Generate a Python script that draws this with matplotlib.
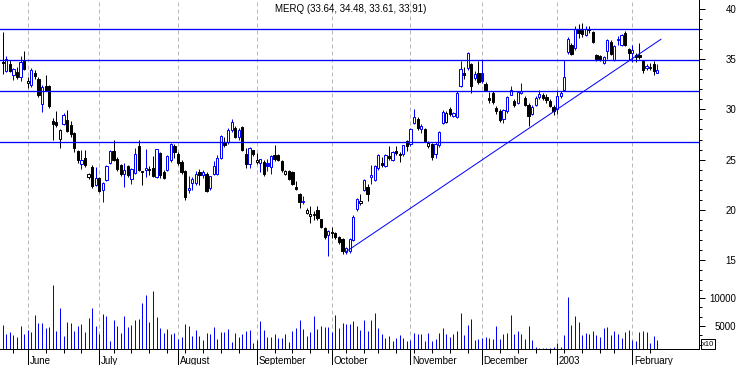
import numpy as np
import pandas as pd
import matplotlib
matplotlib.use('Agg')
import matplotlib.pyplot as plt
from matplotlib.patches import Rectangle
from matplotlib.ticker import FixedLocator
import matplotlib.transforms as mtransforms

# ---------------- data ----------------
opens = [34.7, 33.8, 34.5, 33.4, 33.7, 33.2, 34.8, 32.65, 32.4, 33.6,
         33.0, 30.5, 32.3, 32.3, 28.8, 28.7, 27.1, 28.5, 28.95, 28.4,
         27.6, 25.85, 24.6, 25.2, 23.25, 24.3, 22.5, 23.2, 22.0, 22.95,
         24.7, 25.9, 25.1, 24.45, 23.6, 24.4, 23.1, 23.7, 26.35, 23.85,
         24.0, 24.1, 24.2, 23.3, 25.7, 23.8, 24.0, 24.95, 26.4, 25.6,
         24.8, 23.85, 22.0, 22.7, 22.7, 23.8, 23.5, 23.6, 22.15, 23.6,
         23.6, 25.2, 26.8, 26.8, 27.9, 28.1, 27.3, 28.2, 25.6, 24.55,
         25.95, 24.8, 24.7, 24.8, 24.7, 24.25, 25.45, 25.45, 24.85, 23.6,
         23.85, 23.8, 22.25, 21.6, 20.8, 19.7, 19.4, 19.6, 20.0, 19.05,
         18.15, 17.5, 17.8, 17.7, 17.3, 17.1, 15.75, 15.85, 17.0, 20.05,
         20.65, 22.0, 22.25, 23.3, 23.0, 24.15, 24.7, 24.4, 25.35, 25.0,
         25.9, 25.6, 25.55, 26.9, 26.55, 28.6, 29.0, 28.0, 28.0, 26.36,
         26.55, 25.6, 26.45, 28.6, 28.7, 30.0, 29.3, 29.2, 32.3, 33.65,
         34.1, 34.5, 33.1, 33.65, 33.6, 32.5, 31.1, 31.6, 30.1, 29.8,
         29.0, 29.8, 31.45, 30.8, 30.6, 31.6, 31.1, 30.45, 29.55, 30.45,
         31.2, 31.4, 31.2, 30.85, 30.25, 30.0, 31.3, 31.95, 35.7, 36.4,
         36.1, 38.05, 37.9, 37.4, 38.0, 37.7, 35.4, 35.3, 34.6, 35.85,
         36.75, 34.95, 36.9, 36.4, 37.65, 36.0, 35.65, 35.4, 35.4, 34.8,
         34.1, 34.15, 34.5, 33.64]
highs = [37.7, 35.3, 34.9, 34.1, 34.2, 35.3, 35.85, 33.25, 34.1, 33.9,
         33.2, 32.4, 33.4, 32.4, 29.1, 29.8, 28.0, 29.6, 29.95, 28.8,
         27.7, 26.0, 25.95, 26.0, 23.7, 24.5, 24.3, 23.3, 22.8, 24.5,
         26.0, 26.95, 25.3, 24.6, 24.65, 24.5, 24.2, 26.15, 26.95, 23.9,
         26.05, 24.4, 25.35, 26.1, 25.8, 24.0, 25.5, 26.7, 26.6, 25.8,
         25.0, 24.0, 23.4, 23.3, 23.9, 24.1, 24.0, 23.8, 23.4, 24.9,
         25.5, 27.4, 27.3, 28.1, 29.0, 28.3, 28.1, 28.3, 26.15, 26.3,
         26.0, 25.7, 25.1, 25.0, 25.1, 25.5, 26.45, 25.6, 25.0, 23.95,
         23.95, 23.9, 22.9, 21.7, 21.4, 20.2, 20.4, 19.9, 20.4, 19.1,
         18.3, 18.0, 18.3, 17.8, 17.4, 17.15, 16.3, 17.2, 19.5, 21.2,
         21.6, 23.1, 22.6, 24.5, 24.5, 25.6, 25.3, 25.6, 26.35, 25.9,
         26.35, 25.8, 26.5, 27.0, 28.1, 30.0, 29.2, 28.5, 28.1, 26.9,
         26.7, 26.8, 27.8, 29.9, 29.8, 30.2, 29.7, 31.8, 34.85, 34.2,
         35.75, 34.6, 33.8, 34.85, 34.9, 32.7, 31.75, 31.8, 30.3, 30.0,
         30.0, 31.3, 32.3, 31.0, 31.8, 32.6, 31.3, 30.6, 30.4, 31.3,
         31.9, 31.6, 31.5, 31.0, 30.4, 31.9, 31.8, 34.9, 37.2, 36.6,
         38.3, 38.55, 38.6, 38.3, 38.3, 37.8, 35.5, 35.4, 35.3, 37.0,
         36.9, 36.4, 37.3, 37.5, 37.85, 36.1, 36.4, 35.6, 36.6, 34.9,
         34.5, 34.6, 34.8, 34.48]
lows = [33.5, 33.7, 33.7, 32.9, 33.0, 32.8, 33.9, 32.1, 32.2, 33.0,
        31.2, 29.7, 31.8, 30.1, 27.0, 28.2, 26.2, 28.4, 27.7, 27.3,
        25.8, 24.7, 24.05, 24.3, 23.1, 22.2, 22.4, 21.8, 20.8, 22.9,
        24.6, 24.9, 23.9, 23.4, 22.3, 23.3, 22.6, 23.6, 23.9, 22.5,
        23.3, 23.5, 23.3, 23.2, 23.2, 23.1, 23.9, 24.8, 25.2, 24.5,
        23.6, 21.0, 21.7, 22.0, 22.5, 22.5, 23.2, 21.8, 22.0, 23.5,
        23.5, 25.1, 26.3, 26.6, 27.7, 27.2, 27.0, 25.9, 24.2, 24.2,
        25.4, 24.6, 23.8, 23.4, 23.9, 23.6, 24.9, 24.9, 23.8, 23.5,
        23.0, 22.5, 22.0, 20.15, 20.55, 19.6, 18.7, 19.0, 19.0, 18.2,
        17.1, 15.4, 17.2, 17.1, 16.6, 15.6, 15.6, 15.7, 16.9, 19.9,
        20.5, 21.9, 20.9, 22.6, 22.9, 24.0, 24.3, 24.3, 25.0, 24.9,
        25.5, 24.8, 25.4, 25.9, 26.4, 28.5, 27.9, 27.6, 26.8, 26.2,
        24.96, 25.2, 26.3, 28.5, 28.6, 29.3, 29.2, 29.1, 32.2, 33.0,
        33.9, 31.6, 32.9, 32.5, 32.6, 31.8, 30.6, 30.5, 29.5, 28.7,
        28.6, 29.6, 31.4, 30.2, 30.5, 31.5, 30.3, 28.35, 29.4, 30.3,
        31.0, 30.9, 30.6, 30.2, 29.45, 29.5, 31.1, 31.9, 35.5, 35.4,
        35.9, 37.1, 37.2, 37.3, 37.6, 36.6, 34.8, 34.8, 34.5, 35.0,
        35.4, 34.8, 36.4, 36.3, 36.3, 34.9, 34.75, 34.7, 35.0, 33.6,
        33.9, 33.9, 33.4, 33.61]
closes = [34.65, 35.0, 33.8, 34.0, 33.2, 34.75, 34.0, 32.8, 33.9, 33.3,
          31.4, 32.2, 31.9, 30.3, 28.5, 28.4, 27.95, 29.4, 27.8, 27.5,
          26.2, 24.95, 25.0, 24.45, 23.6, 22.4, 23.2, 21.9, 22.65, 24.4,
          25.9, 25.0, 24.1, 23.55, 24.0, 23.5, 24.1, 25.55, 23.95, 23.8,
          24.15, 23.95, 23.4, 26.05, 23.45, 23.2, 25.35, 26.6, 25.8, 24.7,
          23.8, 21.3, 22.15, 23.1, 23.6, 23.45, 23.75, 21.9, 23.35, 24.35,
          25.2, 27.35, 26.5, 27.95, 28.7, 27.3, 27.95, 26.0, 24.6, 26.2,
          25.6, 25.0, 25.05, 23.6, 24.4, 25.35, 25.05, 25.0, 23.95, 23.85,
          23.1, 22.6, 22.1, 20.8, 20.9, 20.0, 19.55, 19.5, 19.15, 18.25,
          17.3, 17.9, 17.65, 17.25, 16.8, 15.9, 16.15, 17.1, 19.3, 21.05,
          20.9, 22.95, 21.6, 23.5, 24.35, 25.45, 24.5, 25.5, 25.2, 25.8,
          25.7, 25.45, 26.45, 26.4, 28.0, 29.2, 28.1, 28.3, 26.9, 26.7,
          25.3, 26.6, 27.7, 29.75, 29.65, 29.5, 29.6, 31.65, 34.0, 33.45,
          35.6, 32.3, 33.55, 32.7, 32.8, 31.95, 30.9, 30.7, 29.8, 28.9,
          29.9, 31.25, 31.9, 30.45, 31.75, 31.8, 30.45, 29.3, 30.25, 31.1,
          31.5, 31.1, 30.9, 30.35, 29.8, 31.35, 31.6, 33.25, 37.0, 35.5,
          38.05, 37.6, 37.55, 38.0, 37.95, 36.7, 35.0, 34.9, 35.2, 36.95,
          35.5, 36.3, 37.05, 37.4, 36.4, 35.65, 35.9, 35.25, 35.2, 33.95,
          34.3, 34.2, 33.85, 33.91]
volumes = [5180, 3570, 3870, 3390, 3040, 5000, 3570, 4290, 3930, 6970,
           5480, 5480, 4580, 4880, 12320, 4110, 8280, 3210, 5650, 5600,
           4110, 5060, 5360, 3930, 6490, 8280, 5000, 3570, 7140, 6790,
           2320, 6070, 5060, 3750, 6850, 4880, 5180, 6070, 6250, 9050,
           10540, 5780, 11250, 6670, 4580, 3690, 4400, 3570, 3690, 2680,
           3100, 5360, 5000, 3280, 4290, 3280, 2500, 3690, 3570, 4760,
           2680, 3990, 3990, 4470, 2140, 3690, 2980, 3510, 4170, 4290,
           2020, 2500, 5890, 4290, 3100, 3100, 3510, 2920, 2920, 3570,
           2200, 4110, 4580, 6070, 4400, 3280, 3990, 6850, 4400, 5060,
           4880, 4760, 3990, 6970, 4580, 5600, 5300, 5300, 5950, 5060,
           4290, 6070, 4110, 6070, 7260, 4580, 3510, 2920, 3210, 2320,
           2920, 3390, 2920, 2380, 2500, 3690, 3570, 3570, 2380, 3690,
           2380, 2620, 3690, 4580, 3570, 3100, 3510, 4110, 7260, 3390,
           5180, 6250, 2500, 2700, 2920, 3100, 2800, 2600, 5000, 2680,
           3570, 3750, 6970, 3570, 4110, 3570, 2680, 5000, 2500, 1310,
           1000, 1010, 1010, 1010, 1190, 1900, 1190, 3390, 10180, 5180,
           6790, 5720, 3390, 3750, 3570, 4110, 3390, 3040, 4640, 4820,
           3390, 4110, 3570, 2860, 3930, 4290, 2500, 2260, 3930, 4110,
           3930, 1960, 3210, 2500]

levels = [37.98, 34.90, 31.83, 26.75]
trend_idx = [96, 184]
trend_price = [15.83, 36.98]

price_ticks = [15, 20, 25, 30, 35, 40]
volume_ticks = [5000, 10000]
month_names = {1: '2003', 2: 'February', 6: 'June', 7: 'July', 8: 'August',
               9: 'September', 10: 'October', 11: 'November', 12: 'December'}
title = "MERQ (33.64, 34.48, 33.61, 33.91)"

# trading calendar
dates = pd.bdate_range('2002-05-22', '2003-02-12')
holidays = pd.to_datetime(['2002-05-27', '2002-07-04', '2002-10-14', '2002-11-28',
                           '2002-12-25', '2003-01-01', '2003-01-20'])
dates = dates[~dates.isin(holidays)]
n = len(closes)
dates = dates[:n]
idx = np.arange(n)

month_idx = [i for i in range(1, n) if dates[i].month != dates[i - 1].month]
week_idx = [i for i in range(1, n)
            if dates[i].isocalendar()[1] != dates[i - 1].isocalendar()[1]]

# ---------------- figure ----------------
W, H = 738, 365
fig = plt.figure(figsize=(W / 100, H / 100), dpi=100)
rect = [0, 16 / H, 699 / W, 349 / H]
ax = fig.add_axes(rect)
ax2 = fig.add_axes(rect, sharex=ax)
ax2.patch.set_visible(False)

BLUE = '#0000ff'
PX = 0.72  # one pixel in points

ax.set_xlim(-0.755, 194.66)
ax.set_ylim(6.135, 40.896)
ax2.set_ylim(893, 63214)

# month grid
for m in month_idx:
    ax.axvline(m, color='#b8b8b8', lw=PX, ls=(0, (4, 3)), zorder=1)

# candles
w = 0.62
for i in idx:
    o, h, l, c = opens[i], highs[i], lows[i], closes[i]
    up_prev = (i > 0 and c >= closes[i - 1])
    col = BLUE if up_prev else 'black'
    ax.vlines(i, l, h, color=col, lw=PX, zorder=3)
    lo, hi = min(o, c), max(o, c)
    hgt = max(hi - lo, 0.04)
    face = 'white' if c >= o else col
    ax.add_patch(Rectangle((i - w / 2, lo), w, hgt, facecolor=face,
                           edgecolor=col, lw=PX, zorder=4))

# support / resistance lines
for lv in levels:
    ax.axhline(lv, color=BLUE, lw=1.3 * PX, zorder=5)
ax.plot(trend_idx, trend_price, color=BLUE, lw=PX, zorder=5)

# volume
ax2.vlines(idx, 0, volumes, color=BLUE, lw=PX, zorder=3)

# spines
for a in (ax, ax2):
    for s in ('left', 'top'):
        a.spines[s].set_visible(False)
ax2.spines['right'].set_visible(False)
ax2.spines['bottom'].set_visible(False)
ax.spines['right'].set_linewidth(PX)
ax.spines['bottom'].set_linewidth(PX)

# x ticks
ax.set_xticks(month_idx)
ax.set_xticks(week_idx, minor=True)
ax.tick_params(axis='x', which='major', length=16 * PX, width=PX, direction='out',
               labelbottom=False)
ax.tick_params(axis='x', which='minor', length=4 * PX, width=PX, direction='out')
ax2.tick_params(axis='x', which='both', bottom=False, labelbottom=False)

trans = mtransforms.blended_transform_factory(ax.transData, ax.transAxes)
for m in month_idx:
    ax.text(m + 0.45, -11.5 / 349, month_names[dates[m].month], transform=trans,
            ha='left', va='center', fontsize=7, family='Liberation Sans')

# y ticks (price)
ax.yaxis.tick_right()
ax.set_yticks(price_ticks)
ax.set_yticklabels([str(t) for t in price_ticks])
ax.yaxis.set_minor_locator(FixedLocator(list(range(12, 41))))
ax.tick_params(axis='y', which='major', length=4, width=PX, direction='out',
               pad=23, labelsize=7)
ax.tick_params(axis='y', which='minor', length=2.5, width=PX, direction='out')
for lbl in ax.get_yticklabels():
    lbl.set_ha('right')
    lbl.set_family('Liberation Sans')

# y ticks (volume)
ax2.yaxis.tick_right()
ax2.set_yticks(volume_ticks)
ax2.set_yticklabels([str(t) for t in volume_ticks])
ax2.yaxis.set_minor_locator(FixedLocator([5000 / 3, 10000 / 3, 20000 / 3, 25000 / 3]))
ax2.tick_params(axis='y', which='major', length=4, width=PX, direction='out',
                pad=23, labelsize=7)
ax2.tick_params(axis='y', which='minor', length=2.5, width=PX, direction='out')
for lbl in ax2.get_yticklabels():
    lbl.set_ha('right')
    lbl.set_family('Liberation Sans')

# title and multiplier box
fig.text(275 / W, 1 - 8.5 / H, title, ha='left', va='center', fontsize=7,
         family='Liberation Sans')
fig.text(702 / W, 1 - 344 / H, 'x10', ha='left', va='center', fontsize=5.5,
         family='Liberation Sans',
         bbox=dict(boxstyle='square,pad=0.15', fc='white', ec='black', lw=PX))

fig.savefig('out.png', dpi=100)
